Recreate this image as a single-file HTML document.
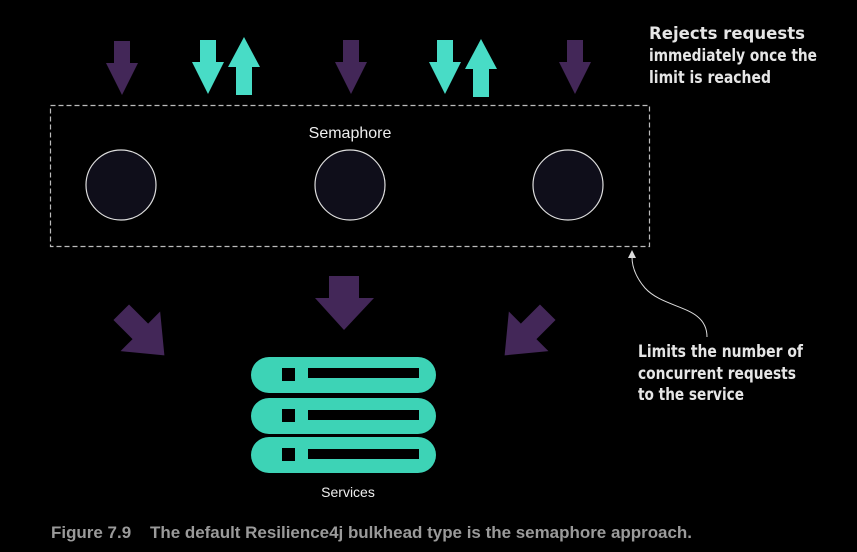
<!DOCTYPE html>
<html><head><meta charset="utf-8"><style>
html,body{margin:0;padding:0;background:#000;}
svg{display:block;}
</style></head><body>
<svg width="857" height="552" viewBox="0 0 857 552" xmlns="http://www.w3.org/2000/svg">
<rect width="857" height="552" fill="#000"/>
<defs>
<path id="down" d="M-8,0 H8 V22 H16 L0,54 L-16,22 H-8 Z"/>
<path id="up" d="M-8,58 H8 V30 H16 L0,0 L-16,30 H-8 Z"/>
</defs>
<use href="#down" x="122" y="41" fill="#432758"/>
<use href="#down" x="208" y="40" fill="#48dcc6"/>
<use href="#up" x="244" y="37" fill="#48dcc6"/>
<use href="#down" x="351" y="40" fill="#432758"/>
<use href="#down" x="445" y="40" fill="#48dcc6"/>
<use href="#up" x="481" y="39" fill="#48dcc6"/>
<use href="#down" x="575" y="40" fill="#432758"/>
<rect x="50.5" y="105.5" width="599" height="141" fill="none" stroke="#bbb" stroke-width="1.2" stroke-dasharray="5,3"/>
<text x="350" y="138" fill="#eee" font-family="Liberation Sans, sans-serif" font-size="16" text-anchor="middle">Semaphore</text>
<circle cx="121" cy="185" r="35" fill="#0f0e1a" stroke="#ddd" stroke-width="1.2"/>
<circle cx="350" cy="185" r="35" fill="#0f0e1a" stroke="#ddd" stroke-width="1.2"/>
<circle cx="568" cy="185" r="35" fill="#0f0e1a" stroke="#ddd" stroke-width="1.2"/>
<path d="M329,276 H359 V298 H374 L344,330 L315,298 H329 Z" fill="#432758"/>
<g transform="translate(146,337) rotate(-45)"><path d="M-11,-35 H11 V-8 H28 L0,26 L-28,-8 H-11 Z" fill="#432758"/></g>
<g transform="translate(523,337) rotate(45)"><path d="M-11,-35 H11 V-8 H28 L0,26 L-28,-8 H-11 Z" fill="#432758"/></g>
<g fill="#3dd3b6">
<rect x="251" y="357" width="185" height="36" rx="18"/>
<rect x="251" y="398" width="185" height="36" rx="18"/>
<rect x="251" y="437" width="185" height="36" rx="18"/>
</g>
<g fill="#000">
<rect x="282" y="368" width="13" height="13"/><rect x="308" y="368" width="111" height="10"/>
<rect x="282" y="409" width="13" height="13"/><rect x="308" y="410" width="111" height="10"/>
<rect x="282" y="448" width="13" height="13"/><rect x="308" y="449" width="111" height="10"/>
</g>
<text x="348" y="497" fill="#eee" font-family="Liberation Sans, sans-serif" font-size="14" text-anchor="middle">Services</text>
<g fill="#e6e6e6" font-family="DejaVu Sans, sans-serif" font-weight="bold" font-size="17">
<text x="649" y="39" textLength="156" lengthAdjust="spacingAndGlyphs">Rejects requests</text>
<text x="649" y="61" textLength="168" lengthAdjust="spacingAndGlyphs">immediately once the</text>
<text x="649" y="83" textLength="122" lengthAdjust="spacingAndGlyphs">limit is reached</text>
<text x="638" y="357" textLength="165" lengthAdjust="spacingAndGlyphs">Limits the number of</text>
<text x="638" y="379" textLength="158" lengthAdjust="spacingAndGlyphs">concurrent requests</text>
<text x="638" y="400" textLength="106" lengthAdjust="spacingAndGlyphs">to the service</text>
</g>
<path d="M707,337 C707,305 665,310 645,288 C634,275 632,265 632,257" fill="none" stroke="#ddd" stroke-width="1"/>
<path d="M632,250 L628,258 L636,258 Z" fill="#ddd"/>
<text x="51" y="538" fill="#9a9a9a" font-family="Liberation Sans Narrow, Liberation Sans, sans-serif" font-weight="bold" font-size="17" textLength="641" lengthAdjust="spacingAndGlyphs" xml:space="preserve">Figure 7.9    The default Resilience4j bulkhead type is the semaphore approach.</text>
</svg>
</body></html>
